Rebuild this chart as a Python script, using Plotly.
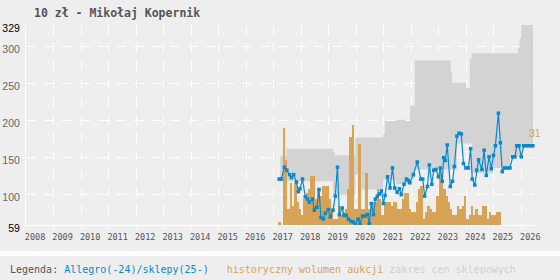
import plotly.graph_objects as go
import pandas as pd

TITLE = "10 zł - Mikołaj Kopernik"

# --- price series (Allegro / shops), decimal years ---
price_x = [2017.20, 2017.28, 2017.39, 2017.48, 2017.58, 2017.65, 2017.73, 2017.83, 2017.90, 2017.96,
           2018.05, 2018.15, 2018.23, 2018.30, 2018.41, 2018.48, 2018.57, 2018.65, 2018.72, 2018.81,
           2018.88, 2018.99, 2019.06, 2019.16, 2019.24, 2019.32, 2019.39, 2019.49, 2019.56, 2019.64,
           2019.72, 2019.81, 2019.89, 2019.97, 2020.07, 2020.14, 2020.23, 2020.31, 2020.41, 2020.48,
           2020.55, 2020.63, 2020.70, 2020.77, 2020.84, 2020.92, 2020.99, 2021.05, 2021.14, 2021.23,
           2021.32, 2021.40, 2021.49, 2021.57, 2021.64, 2021.74, 2021.83, 2021.90, 2021.95, 2022.08,
           2022.22, 2022.35, 2022.42, 2022.49, 2022.59, 2022.66, 2022.75, 2022.82, 2022.90, 2022.99,
           2023.06, 2023.13, 2023.18, 2023.24, 2023.31, 2023.42, 2023.50, 2023.57, 2023.66, 2023.74,
           2023.82, 2023.90, 2023.99, 2024.08, 2024.16, 2024.22, 2024.31, 2024.38, 2024.45, 2024.57,
           2024.65, 2024.73, 2024.83, 2024.91, 2024.99, 2025.06, 2025.17, 2025.24, 2025.31, 2025.40,
           2025.49, 2025.59, 2025.69, 2025.77, 2025.84, 2025.92, 2026.00, 2026.09, 2026.17, 2026.26,
           2026.34, 2026.42]
price_y = [121, 121, 137, 133, 127, 123, 127, 117, 104, 108,
           121, 97, 94, 90, 94, 79, 83, 107, 69, 67,
           75, 80, 70, 79, 98, 137, 73, 82, 72, 72,
           67, 64, 63, 60, 67, 60, 71, 71, 73, 61,
           88, 73, 94, 98, 101, 105, 88, 99, 124, 109,
           136, 109, 103, 108, 100, 114, 121, 119, 116, 127,
           144, 121, 121, 98, 111, 140, 114, 133, 134, 124,
           136, 118, 150, 146, 167, 111, 118, 138, 179, 183,
           182, 142, 136, 136, 162, 121, 113, 133, 147, 134,
           160, 126, 151, 135, 153, 166, 210, 170, 131, 136,
           136, 136, 151, 151, 166, 166, 151, 166, 166, 166,
           166, 166]

# --- monthly auction volume ---
volume_start = "2017-03"
volumes = [1, 0, 30, 20, 5, 13, 6, 13, 7, 5,
           3, 8, 10, 11, 15, 15, 8, 11, 9, 12,
           12, 12, 8, 5, 2, 2, 6, 3, 4, 5,
           11, 27, 31, 5, 5, 25, 5, 5, 16, 5,
           6, 7, 7, 11, 8, 3, 7, 7, 7, 6,
           7, 7, 5, 5, 8, 10, 10, 5, 4, 4,
           7, 11, 12, 2, 4, 6, 5, 4, 4, 9,
           18, 15, 11, 9, 7, 5, 3, 3, 6, 5,
           6, 9, 2, 3, 6, 3, 5, 3, 3, 6,
           6, 2, 4, 3, 3, 4, 4]
volume_max_label = "31"

# --- shop price range (step band) ---
band_x = [2017.24, 2017.46, 2019.16, 2019.22, 2019.97, 2020.18, 2020.98, 2021.04, 2021.44, 2021.79,
          2021.96, 2022.13, 2023.44, 2023.49, 2023.66, 2024.00, 2024.13, 2024.20, 2024.98, 2025.59,
          2025.88, 2025.94, 2026.00, 2026.43]
band_hi = [152, 162, 158, 153, 177, 177, 182, 199.5, 201, 199.5,
           220, 281, 265, 251, 251, 244, 284, 291, 291, 291,
           298, 311, 329, 329]
band_lo = [122, 118, 100, 100, 127, 107, 120, 120, 114, 114,
           122, 134, 134, 134, 169, 169, 169, 129, 136, 151,
           151, 151, 166, 166]

years = list(range(2008, 2027))
y_ticks = [59, 100, 150, 200, 250, 300, 329]
y_grid = [100, 150, 200, 250, 300]

BLUE = "#0788cf"
ORANGE = "#d7a457"
BAND = "#d3d3d3"
BG = "#eeeeee"

months = pd.period_range(volume_start, periods=len(volumes), freq="M")
bar_x = [p.year + (p.month - 0.5) / 12 for p in months]

fig = go.Figure()
fig.add_trace(go.Scatter(x=band_x, y=band_lo, mode="lines", line=dict(width=0, shape="hv"),
                         hoverinfo="skip", yaxis="y"))
fig.add_trace(go.Scatter(x=band_x, y=band_hi, mode="lines", line=dict(width=0, shape="hv"),
                         fill="tonexty", fillcolor=BAND, hoverinfo="skip", yaxis="y"))
fig.add_trace(go.Bar(x=bar_x, y=volumes, width=1 / 12, marker=dict(color=ORANGE, line=dict(width=0)),
                     yaxis="y2"))
fig.add_trace(go.Scatter(x=price_x, y=price_y, mode="lines+markers",
                         line=dict(color=BLUE, width=1.2),
                         marker=dict(symbol="square", size=3.5, color=BLUE),
                         yaxis="y3"))

grid = dict(showgrid=True, gridcolor="white", gridwidth=1, griddash="10px,8px")

fig.update_layout(
    width=560, height=280,
    margin=dict(l=26, r=25, t=25, b=55),
    paper_bgcolor=BG, plot_bgcolor=BG,
    showlegend=False, bargap=0,
    title=dict(text="<b>" + TITLE + "</b>", xref="container", x=34 / 560, xanchor="left",
               yref="container", y=1 - 12.5 / 280, yanchor="middle",
               font=dict(family="DejaVu Sans Mono", size=11.5, color="#555555")),
    xaxis=dict(range=[2008, 2026.5], tickmode="array", automargin=False,
               tickvals=[y + 0.33 for y in years], ticktext=[str(y) for y in years],
               ticks="outside", ticklen=4, tickcolor="rgba(0,0,0,0)",
               showgrid=False, zeroline=False, showline=True, linecolor="white", linewidth=1,
               tickfont=dict(family="DejaVu Sans Mono", size=8.5, color="#555555"),
               minor=dict(tickmode="array", tickvals=years, ticks="outside", ticklen=3,
                          tickcolor="white", **grid)),
    yaxis=dict(range=[59, 329], tickmode="array", tickvals=y_ticks, automargin=False,
               ticktext=[('<span style="color:#000">%d</span>' % v) if v in (59, 329) else str(v)
                         for v in y_ticks],
               ticks="", ticklabelstandoff=3, ticklabelshift=3,
               showgrid=False, zeroline=False, showline=True, linecolor="white", linewidth=1,
               tickfont=dict(family="Liberation Sans", size=10.5, color="#666666"),
               minor=dict(tickmode="array", tickvals=y_grid, ticks="", **grid)),
    yaxis2=dict(range=[0, 61.7], overlaying="y", visible=False),
    yaxis3=dict(range=[59, 329], overlaying="y", visible=False),
)

fig.add_annotation(x=1, xref="paper", y=31, yref="y2", text=volume_max_label, showarrow=False,
                   xanchor="center", yanchor="top",
                   font=dict(family="Liberation Sans", size=10.5, color=ORANGE))

fig.add_shape(type="rect", xref="paper", yref="paper", x0=-0.1, x1=1.1,
              y0=-(251 - 225) / 200, y1=-(256 - 225) / 200,
              fillcolor="white", line=dict(width=0), layer="above")

NB = "\u00a0"
legend = ('<span style="color:#555555">Legenda:' + NB + '</span>'
          + '<span style="color:' + BLUE + '">Allegro(-24)/sklepy(25-)</span>'
          + NB * 3
          + '<span style="color:' + ORANGE + '">historyczny' + NB + 'wolumen' + NB + 'aukcji</span>'
          + NB
          + '<span style="color:#d0d0d0">zakres' + NB + 'cen' + NB + 'sklepowych</span>')
fig.add_annotation(x=(8 - 26) / 509, xref="paper", y=-(269 - 225) / 200, yref="paper",
                   text=legend, showarrow=False, xanchor="left", yanchor="middle",
                   font=dict(family="DejaVu Sans Mono", size=10))

fig.write_html("out.html")
